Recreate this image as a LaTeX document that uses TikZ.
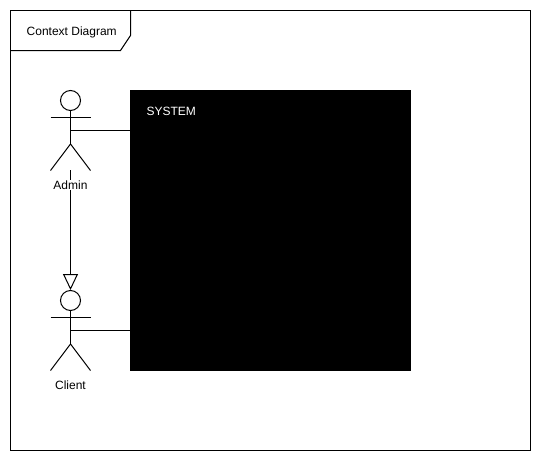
\documentclass[tikz,border=0pt]{standalone}
\usepackage{fontspec}
\setmainfont{Liberation Sans}
\usetikzlibrary{arrows.meta}
\tikzset{
  line/.style={draw=black,line width=1pt},
  label/.style={font=\fontsize{12}{14}\selectfont,inner sep=1pt,text=black},
  headc/.style={circle,draw=black,line width=1pt,minimum size=20pt,inner sep=0pt,fill=white},
  assoc/.style={line},
  gen/.style={line,-{Triangle[open,length=16pt,width=15pt,fill=white,line width=1pt]}}
}
\begin{document}
\begin{tikzpicture}[x=1pt,y=-1pt]
\useasboundingbox (0,0) rectangle (541,461);
\fill[white] (0,0) rectangle (541,461);
\draw[line] (10.5,10.5) rectangle (530.5,450.5);
\draw[line] (10.5,50.5) -- (120.5,50.5) -- (130.5,35.5) -- (130.5,10.5);
\node[label] (title) at (71.7,32.2) {Context Diagram};
\node[fill=black,draw=none,minimum width=281pt,minimum height=281pt,inner sep=0pt] (system) at (270.5,230.5) {};
\node[label,text=white,anchor=west,inner sep=0pt] (systemlabel) at (146.3,111.2) {SYSTEM};
% Admin
\node[headc] (ahead) at (70.5,100.5) {};
\coordinate (aarmL) at (50.5,117.5);
\coordinate (aarmR) at (90.5,117.5);
\coordinate (ahip) at (70.5,144);
\coordinate (alegL) at (50.5,170.5);
\coordinate (alegR) at (90.5,170.5);
\coordinate (awaist) at (70.5,130.5);
\coordinate (afoot) at (70.5,170);
\draw[line] (ahead.south) -- (ahip);
\draw[line] (aarmL) -- (aarmR);
\draw[line] (alegL) -- (ahip) -- (alegR);
% Client
\node[headc] (chead) at (70.5,300.5) {};
\coordinate (carmL) at (50.5,317.5);
\coordinate (carmR) at (90.5,317.5);
\coordinate (chip) at (70.5,344);
\coordinate (clegL) at (50.5,370.5);
\coordinate (clegR) at (90.5,370.5);
\coordinate (cwaist) at (70.5,330.5);
\draw[line] (chead.south) -- (chip);
\draw[line] (carmL) -- (carmR);
\draw[line] (clegL) -- (chip) -- (clegR);
% Connectors
\draw[gen] (afoot) -- (chead.north);
\draw[assoc] (awaist) -- (awaist -| system.west);
\draw[assoc] (cwaist) -- (cwaist -| system.west);
\node[label,fill=white] (admin) at (70.5,185) {Admin};
\node[label] (client) at (70.5,385) {Client};
\end{tikzpicture}
\end{document}
